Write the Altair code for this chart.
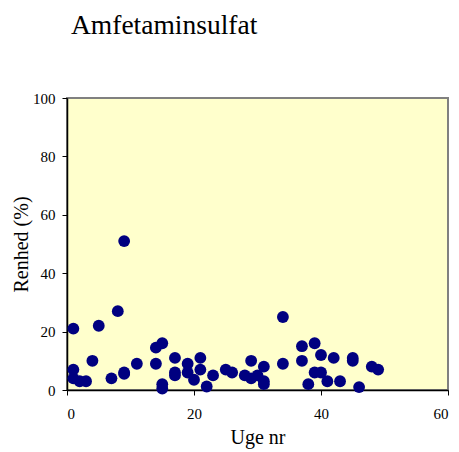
import altair as alt
import pandas as pd

uge = [1, 1, 1, 2, 3, 4, 5, 7, 8, 9, 9, 9, 11, 14, 14, 15, 15, 15,
       17, 17, 17, 19, 19, 20, 21, 21, 22, 23, 25, 26, 28, 29, 29, 30, 31, 31, 31,
       34, 34, 37, 37, 38, 39, 39, 40, 40, 41, 42, 43, 45, 45, 46, 48, 49]
renhed = [21, 7, 4, 3, 3, 10, 22, 4, 27, 51, 5.5, 6, 9, 14.5, 9, 16, 2, 0.5,
          11, 6, 5, 9, 6, 3.5, 11, 7, 1.2, 5, 7, 6, 5, 10, 4, 5, 8, 3, 2,
          25, 9, 15, 10, 2, 16, 6, 12, 6, 3, 11, 3, 11, 10, 1, 8, 7]

df = pd.DataFrame({"Uge": uge, "Renhed": renhed})

serif = "'Liberation Serif', 'Times New Roman', serif"

chart = alt.Chart(df).mark_circle(
    size=140, color="#000080", opacity=1
).encode(
    x=alt.X("Uge:Q", scale=alt.Scale(domain=[0, 60], nice=False),
            axis=alt.Axis(title="Uge nr", values=[0, 20, 40, 60], grid=False,
                          tickSize=5, labelPadding=11, titlePadding=6)),
    y=alt.Y("Renhed:Q", scale=alt.Scale(domain=[0, 100], nice=False),
            axis=alt.Axis(title="Renhed (%)", values=[0, 20, 40, 60, 80, 100], grid=False,
                          tickSize=5, labelPadding=7, titlePadding=1)),
).properties(
    width=381, height=292,
    autosize=alt.AutoSizeParams(type="none"),
    padding={"left": 59, "top": 90, "right": 3, "bottom": 60},
    title=alt.TitleParams("Amfetaminsulfat", font=serif, fontSize=27.5, fontWeight="normal",
                          anchor="start", frame="group", dx=4, offset=52, color="black"),
).configure_view(
    fill="#FFFFCC", stroke="#808080", strokeWidth=2
).configure_axis(
    labelFont=serif, labelFontSize=15, labelColor="black",
    titleFont=serif, titleFontSize=20, titleFontWeight="normal", titleColor="black",
    domainColor="black", domainWidth=1.5, tickColor="black",
)

chart.save("out.html", embed_options={"renderer": "svg", "actions": False})
